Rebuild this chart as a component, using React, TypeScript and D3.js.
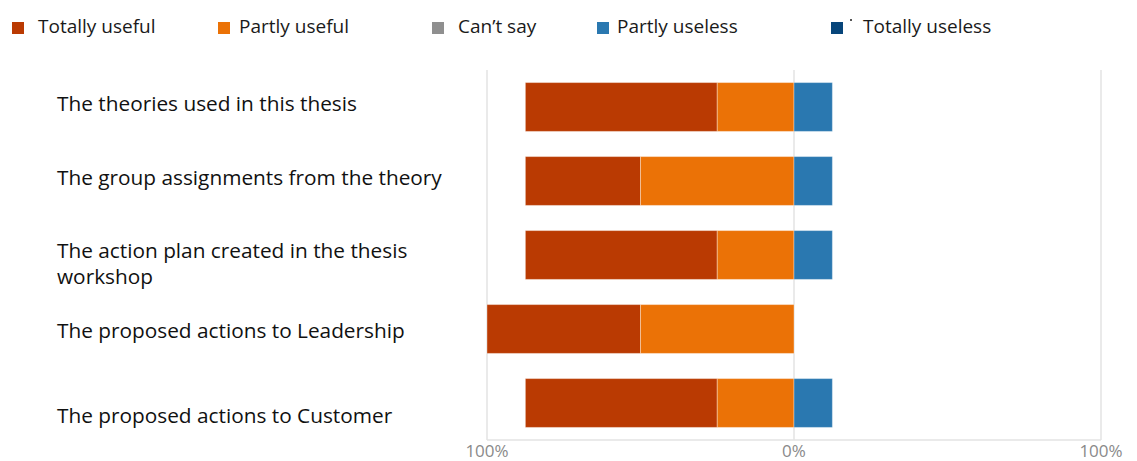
import React from "react";
import * as d3 from "d3";

const categories = [
  ["The theories used in this thesis"],
  ["The group assignments from the theory"],
  ["The action plan created in the thesis", "workshop"],
  ["The proposed actions to Leadership"],
  ["The proposed actions to Customer"],
];
const totallyUseful = [62.5, 37.5, 62.5, 50, 62.5];
const partlyUseful = [25, 50, 25, 50, 25];
const cantSay = [0, 0, 0, 0, 0];
const partlyUseless = [12.5, 12.5, 12.5, 0, 12.5];
const totallyUseless = [0, 0, 0, 0, 0];
const seriesNames = ["Totally useful", "Partly useful", "Can\u2019t say", "Partly useless", "Totally useless"];
const seriesColors = ["#BA3A02", "#EB7206", "#8F8F8F", "#2A78B0", "#07457A"];
const tickValues = [-100, 0, 100];
const tickLabels = ["100%", "0%", "100%"];

const W = 1137;
const H = 461;
const FONT = "'Open Sans', 'Noto Sans', sans-serif";

export default function App() {
  const x = d3.scaleLinear().domain([-100, 100]).range([487, 1101]);
  const y = d3
    .scaleBand<number>()
    .domain(d3.range(categories.length))
    .range([70, 440])
    .paddingInner(0.34)
    .paddingOuter(0.17);

  // layout: legend positions and label baseline nudges (relative to band centre)
  const legendX = [12, 218, 432, 597, 831];
  const legendTextX = [38, 239, 458, 617, 863];
  const labelNudge = [3.5, 3.5, 2.5, 8.5, 19.5];
  const lineH = 26;

  const bars: any[] = [];
  categories.forEach((_, i) => {
    const tu = totallyUseful[i];
    const pu = partlyUseful[i];
    const cs = cantSay[i];
    const pl = partlyUseless[i];
    const tl = totallyUseless[i];
    const segs = [
      { s: 0, x0: -(pu + cs / 2 + tu), x1: -(pu + cs / 2) },
      { s: 1, x0: -(pu + cs / 2), x1: -cs / 2 },
      { s: 2, x0: -cs / 2, x1: cs / 2 },
      { s: 3, x0: cs / 2, x1: cs / 2 + pl },
      { s: 4, x0: cs / 2 + pl, x1: cs / 2 + pl + tl },
    ];
    segs.forEach((g) => {
      if (g.x1 - g.x0 <= 0) return;
      bars.push(
        <rect
          key={`${i}-${g.s}`}
          x={x(g.x0)}
          y={y(i)}
          width={x(g.x1) - x(g.x0)}
          height={y.bandwidth()}
          fill={seriesColors[g.s]}
          stroke="#ffffff"
          strokeOpacity={0.35}
          strokeWidth={1}
        />
      );
    });
  });

  return (
    <svg width={W} height={H} style={{ position: "absolute", left: 0, top: 0, background: "#fff" }}>
      {/* legend */}
      {seriesNames.map((n, i) => (
        <g key={n}>
          <rect x={legendX[i]} y={22} width={12} height={12} fill={seriesColors[i]} />
          <text x={legendTextX[i]} y={33} fontFamily={FONT} fontSize={19} fill="#1a1a1a">
            {n}
          </text>
        </g>
      ))}
      <rect x={850} y={19} width={2} height={2} fill="#555" />
      {/* grid */}
      {tickValues.map((t) => (
        <line key={t} x1={x(t)} x2={x(t)} y1={70} y2={440} stroke="#E3E3E3" strokeWidth={1.5} />
      ))}
      <line x1={x(-100)} x2={x(100)} y1={440} y2={440} stroke="#E3E3E3" strokeWidth={1.5} />
      {bars}
      {/* category labels */}
      {categories.map((lines, i) => {
        const cy = (y(i) as number) + y.bandwidth() / 2;
        const base = cy + labelNudge[i];
        return (
          <text key={i} fontFamily={FONT} fontSize={20.8} fill="#111">
            {lines.map((l, j) => (
              <tspan key={j} x={57} y={base + j * lineH}>
                {l}
              </tspan>
            ))}
          </text>
        );
      })}
      {/* axis labels */}
      {tickValues.map((t, i) => (
        <text key={t} x={x(t)} y={457} textAnchor="middle" fontFamily={FONT} fontSize={17} fill="#8a8a8a">
          {tickLabels[i]}
        </text>
      ))}
    </svg>
  );
}
